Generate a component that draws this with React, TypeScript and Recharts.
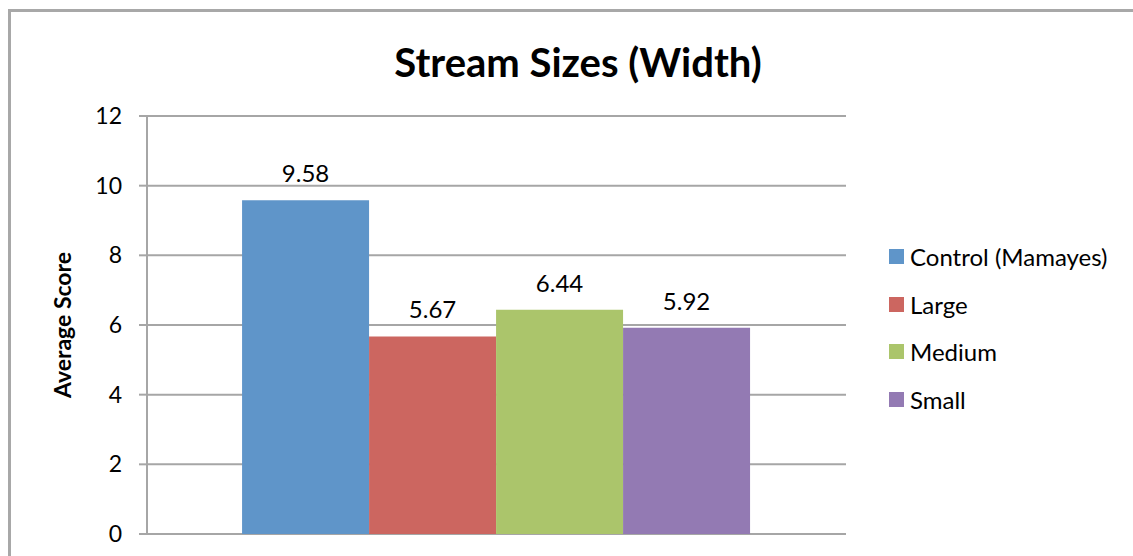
import React from 'react';
import { BarChart, Bar, XAxis, YAxis, CartesianGrid, Legend, LabelList } from 'recharts';

const categories = ['Width'];
const seriesNames = ['Control (Mamayes)', 'Large', 'Medium', 'Small'];
const seriesValues = [9.58, 5.67, 6.44, 5.92];
const seriesColors = ['#5f95c9', '#cc6660', '#abc56b', '#937ab3'];
const yTicks = [0, 2, 4, 6, 8, 10, 12];

const data = categories.map((name) => {
  const row: { [key: string]: string | number } = { name };
  seriesNames.forEach((s, i) => { row[s] = seriesValues[i]; });
  return row;
});

const FONT = 'Lato, "Open Sans", sans-serif';

function LegendContent() {
  return (
    <div style={{ fontFamily: FONT, fontSize: 24, color: '#000' }}>
      {seriesNames.map((s, i) => (
        <div key={s} style={{ display: 'flex', alignItems: 'center', height: 47.5 }}>
          <div style={{ width: 15, height: 15, background: seriesColors[i], marginRight: 6 }} />
          <span>{s}</span>
        </div>
      ))}
    </div>
  );
}

function YLabel({ viewBox }: any) {
  const x = viewBox.x + 62;
  const y = viewBox.y + viewBox.height / 2;
  return (
    <text x={x} y={y} transform={`rotate(-90 ${x} ${y})`} textAnchor="middle" dominantBaseline="central"
      fontFamily={FONT} fontWeight="bold" fontSize={23} fill="#000">
      Average Score
    </text>
  );
}

export default function App() {
  return (
    <div style={{ position: 'absolute', left: 0, top: 0, width: 1133, height: 556, overflow: 'hidden', background: '#fff' }}>
      <div style={{ position: 'absolute', left: 8, top: 9, width: 1200, height: 600, border: '3px solid #a8a8a8' }} />
      <div style={{ position: 'absolute', left: 0, top: 38, width: 1156, textAlign: 'center', fontFamily: FONT,
        fontWeight: 'bold', fontSize: 40, lineHeight: '48px', color: '#000' }}>
        Stream Sizes (Width)
      </div>
      <BarChart width={1133} height={556} data={data} barGap={0} barCategoryGap="13.6%"
        margin={{ top: 116, right: 47, bottom: 22, left: 0 }}>
        <CartesianGrid vertical={false} stroke="#a6a6a6" strokeWidth={2} />
        <XAxis dataKey="name" hide />
        <YAxis width={147} domain={[0, 12]} ticks={yTicks} interval={0} tickSize={8} tickMargin={17}
          axisLine={{ stroke: '#a6a6a6', strokeWidth: 2 }} tickLine={{ stroke: '#a6a6a6', strokeWidth: 2 }}
          tick={{ fill: '#000', fontSize: 23, fontFamily: FONT }} label={<YLabel />} />
        <Legend layout="vertical" align="right" verticalAlign="top" content={<LegendContent />}
          wrapperStyle={{ position: 'absolute', left: 889, top: 233, width: 240 }} />
        {seriesNames.map((s, i) => (
          <Bar key={s} dataKey={s} fill={seriesColors[i]} isAnimationActive={false}>
            <LabelList dataKey={s} position="top" offset={18} fill="#000" fontSize={24} fontFamily={FONT} />
          </Bar>
        ))}
      </BarChart>
    </div>
  );
}
